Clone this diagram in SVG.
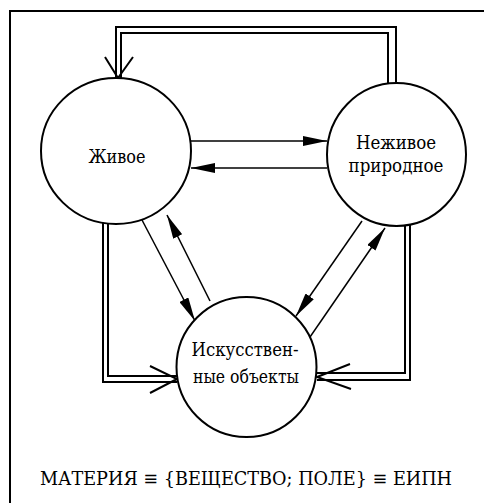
<svg xmlns="http://www.w3.org/2000/svg" width="484" height="503" viewBox="0 0 484 503">
<defs>
<style>
.node{fill:#fff;stroke:#000;stroke-width:2}
.lbl{font-family:"DejaVu Serif Condensed","DejaVu Serif","Liberation Serif",serif;font-stretch:condensed;font-size:19px;fill:#000;text-anchor:middle}
.ln{fill:none;stroke:#000;stroke-width:1.5}
.dbl{fill:none;stroke:#000;stroke-width:2}
.open{fill:none;stroke:#000;stroke-width:2}
</style>
<marker id="ah" viewBox="0 0 24 10" refX="24" refY="5" markerWidth="24" markerHeight="10" markerUnits="userSpaceOnUse" orient="auto">
<path d="M0,0 L24,5 L0,10 z" fill="#000"/>
</marker>
</defs>
<rect width="484" height="503" fill="#fff"/>
<g id="frame">
<line x1="10" y1="10" x2="10" y2="503" stroke="#000" stroke-width="2"/>
<line x1="11" y1="11" x2="484" y2="11" stroke="#000" stroke-width="2"/>
</g>
<g id="connectors">
<line class="ln" x1="191" y1="141" x2="327" y2="141" marker-end="url(#ah)"/>
<line class="ln" x1="327" y1="168" x2="191" y2="168" marker-end="url(#ah)"/>
<line class="ln" x1="142" y1="220" x2="195" y2="321" marker-end="url(#ah)"/>
<line class="ln" x1="210" y1="301" x2="167" y2="215" marker-end="url(#ah)"/>
<line class="ln" x1="362" y1="221" x2="296" y2="316" marker-end="url(#ah)"/>
<line class="ln" x1="310" y1="337" x2="385" y2="228" marker-end="url(#ah)"/>
<path class="dbl" d="M396,83 V27 H116 V78"/>
<path class="dbl" d="M388,84 V33 H121 V78"/>
<path class="open" d="M105,57 L118,78 L133,57"/>
<path class="dbl" d="M103,222 V382 H177"/>
<path class="dbl" d="M108,223 V376 H177"/>
<path class="open" d="M150,366 L177,379 L150,393"/>
<path class="dbl" d="M410,224 V380 H317"/>
<path class="dbl" d="M405,226 V373 H317"/>
<path class="open" d="M350,364 L317,377 L351,389"/>
</g>
<g id="zhivoe">
<ellipse class="node" cx="116" cy="151" rx="75" ry="73"/>
<text class="lbl" x="117" y="163" textLength="57" lengthAdjust="spacingAndGlyphs">Живое</text>
</g>
<g id="nezhivoe">
<ellipse class="node" cx="396.5" cy="154.5" rx="69.5" ry="71.5"/>
<text class="lbl" x="396" y="149" textLength="80" lengthAdjust="spacingAndGlyphs">Неживое</text>
<text class="lbl" x="396" y="172" textLength="95" lengthAdjust="spacingAndGlyphs">природное</text>
</g>
<g id="iskusstvennye">
<circle class="node" cx="246.5" cy="367" r="70"/>
<text class="lbl" x="245" y="356" textLength="107" lengthAdjust="spacingAndGlyphs">Искусствен-</text>
<text class="lbl" x="246" y="383" textLength="106" lengthAdjust="spacingAndGlyphs">ные объекты</text>
</g>
<text class="lbl" x="246" y="485" textLength="412" lengthAdjust="spacingAndGlyphs">МАТЕРИЯ ≡ {ВЕЩЕСТВО; ПОЛЕ} ≡ ЕИПН</text>
</svg>
